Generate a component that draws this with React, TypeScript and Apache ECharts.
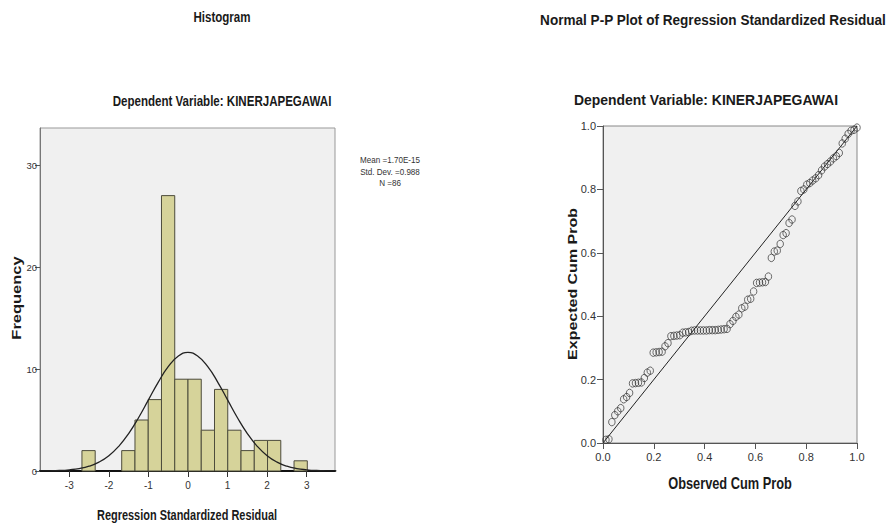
import React, { useEffect, useRef } from "react";
import * as echarts from "echarts";

// ---- Histogram data ----
const binEdges = [-2.68, -2.345, -2.01, -1.675, -1.34, -1.005, -0.67, -0.335, 0, 0.335, 0.67, 1.005, 1.34, 1.675, 2.01, 2.345, 2.68, 3.015];
const binCounts = [2, 0, 0, 2, 5, 7, 27, 9, 9, 4, 8, 4, 2, 3, 3, 0, 1];
const histXTicks = [-3, -2, -1, 0, 1, 2, 3];
const histYTicks = [0, 10, 20, 30];
// fitted normal curve
const curveX = [-3.75, -3.5, -3.25, -3, -2.75, -2.5, -2.25, -2, -1.75, -1.5, -1.25, -1, -0.75, -0.5, -0.25, 0, 0.25, 0.5, 0.75, 1, 1.25, 1.5, 1.75, 2, 2.25, 2.5, 2.75, 3, 3.25, 3.5, 3.75];
const curveY = [0.01, 0.02, 0.05, 0.12, 0.24, 0.47, 0.87, 1.5, 2.42, 3.67, 5.22, 6.97, 8.72, 10.23, 11.26, 11.63, 11.26, 10.23, 8.72, 6.97, 5.22, 3.67, 2.42, 1.5, 0.87, 0.47, 0.24, 0.12, 0.05, 0.02, 0.01];
const statLines = ["Mean =1.70E-15", "Std. Dev. =0.988", "N =86"];

// ---- P-P plot data ----
const observedCum = [
  0.0116, 0.0233, 0.0349, 0.0465, 0.0581, 0.0698, 0.0814, 0.093, 0.1047, 0.1163,
  0.1279, 0.1395, 0.1512, 0.1628, 0.1744, 0.186, 0.1977, 0.2093, 0.2209, 0.2326,
  0.2442, 0.2558, 0.2674, 0.2791, 0.2907, 0.3023, 0.314, 0.3256, 0.3372, 0.3488,
  0.3605, 0.3721, 0.3837, 0.3953, 0.407, 0.4186, 0.4302, 0.4419, 0.4535, 0.4651,
  0.4767, 0.4884, 0.5, 0.5116, 0.5233, 0.5349, 0.5465, 0.5581, 0.5698, 0.5814,
  0.593, 0.6047, 0.6163, 0.6279, 0.6395, 0.6512, 0.6628, 0.6744, 0.686, 0.6977,
  0.7093, 0.7209, 0.7326, 0.7442, 0.7558, 0.7674, 0.7791, 0.7907, 0.8023, 0.814,
  0.8256, 0.8372, 0.8488, 0.8605, 0.8721, 0.8837, 0.8953, 0.907, 0.9186, 0.9302,
  0.9419, 0.9535, 0.9651, 0.9767, 0.9884, 1.0,
];
const expectedCum = [
  0.01, 0.012, 0.066, 0.088, 0.1, 0.11, 0.138, 0.145, 0.158, 0.188,
  0.189, 0.19, 0.191, 0.205, 0.222, 0.228, 0.285, 0.286, 0.287, 0.288,
  0.305, 0.315, 0.337, 0.338, 0.339, 0.34, 0.348, 0.349, 0.35, 0.354,
  0.355, 0.355, 0.355, 0.355, 0.355, 0.356, 0.356, 0.356, 0.357, 0.358,
  0.359, 0.36, 0.375, 0.385, 0.398, 0.405, 0.425, 0.43, 0.452, 0.455,
  0.478, 0.505, 0.506, 0.507, 0.508, 0.525, 0.584, 0.604, 0.607, 0.628,
  0.656, 0.662, 0.694, 0.705, 0.748, 0.762, 0.795, 0.8, 0.815, 0.82,
  0.828, 0.835, 0.845, 0.86, 0.872, 0.88, 0.888, 0.898, 0.905, 0.915,
  0.945, 0.96, 0.975, 0.985, 0.988, 0.995,
];
const refLine = [[0, 0], [1, 1]];

const SANS = "'Liberation Sans', Arial, sans-serif";

function txt(text: string, x: number, y: number, size: number, sx: number, opts: any = {}) {
  return {
    type: "text",
    x, y,
    scaleX: sx,
    scaleY: opts.scaleY ?? 1,
    rotation: opts.rotation ?? 0,
    style: {
      text,
      fontFamily: SANS,
      fontWeight: opts.weight ?? "bold",
      fontSize: size,
      fill: opts.fill ?? "#1a1a1a",
      align: "center",
      verticalAlign: "middle",
    },
  };
}

export default function App() {
  const ref = useRef<HTMLDivElement>(null);
  useEffect(() => {
    if (!ref.current) return;
    const chart = echarts.init(ref.current, null, { renderer: "svg" });
    const barData = binCounts
      .map((c, i) => [binEdges[i], binEdges[i + 1], c])
      .filter((d) => d[2] > 0);
    const curveData = curveX.map((x, i) => [x, curveY[i]]);
    const ppData = observedCum.map((x, i) => [x, expectedCum[i]]);

    const option: any = {
      animation: false,
      backgroundColor: "#ffffff",
      grid: [
        { left: 40, top: 128, width: 295, height: 343, show: true, backgroundColor: "#f0f0f0", borderColor: "#999", borderWidth: 1 },
        { left: 603, top: 126, width: 254, height: 317, show: true, backgroundColor: "#f0f0f0", borderColor: "#888", borderWidth: 1 },
      ],
      xAxis: [
        {
          gridIndex: 0, type: "value", min: -3.74, max: 3.715,
          splitLine: { show: false },
          axisLine: { onZero: false, lineStyle: { color: "#111", width: 2 } },
          axisTick: { show: true, length: 6, lineStyle: { color: "#333" }, customValues: histXTicks },
          axisLabel: { customValues: histXTicks, fontFamily: SANS, fontSize: 10, color: "#333", margin: 9 },
        },
        {
          gridIndex: 1, type: "value", min: 0, max: 1, interval: 0.2,
          splitLine: { show: false },
          axisLine: { onZero: false, lineStyle: { color: "#555", width: 1 } },
          axisTick: { show: true, length: 6, lineStyle: { color: "#555" } },
          axisLabel: { formatter: (v: number) => v.toFixed(1), fontFamily: SANS, fontSize: 11, color: "#333", margin: 8 },
        },
      ],
      yAxis: [
        {
          gridIndex: 0, type: "value", min: 0, max: 33.63,
          splitLine: { show: false },
          axisLine: { onZero: false, lineStyle: { color: "#777", width: 1 } },
          axisTick: { show: true, length: 5, lineStyle: { color: "#555" }, customValues: histYTicks },
          axisLabel: { customValues: histYTicks, fontFamily: SANS, fontSize: 9.5, color: "#333", margin: 3 },
        },
        {
          gridIndex: 1, type: "value", min: 0, max: 1, interval: 0.2,
          splitLine: { show: false },
          axisLine: { onZero: false, lineStyle: { color: "#555", width: 1 } },
          axisTick: { show: true, length: 6, lineStyle: { color: "#555" } },
          axisLabel: { formatter: (v: number) => v.toFixed(1), fontFamily: SANS, fontSize: 11, color: "#333", margin: 7 },
        },
      ],
      series: [
        {
          type: "custom", xAxisIndex: 0, yAxisIndex: 0, data: barData,
          renderItem: (params: any, api: any) => {
            const p0 = api.coord([api.value(0), api.value(2)]);
            const p1 = api.coord([api.value(1), 0]);
            return {
              type: "rect",
              shape: { x: p0[0], y: p0[1], width: p1[0] - p0[0], height: p1[1] - p0[1] },
              style: { fill: "#d6d39a", stroke: "#4d4c3c", lineWidth: 1 },
            };
          },
          z: 2,
        },
        {
          type: "line", xAxisIndex: 0, yAxisIndex: 0, data: curveData, smooth: true,
          showSymbol: false, symbol: "none", lineStyle: { color: "#222", width: 1.3 }, z: 3,
        },
        {
          type: "line", xAxisIndex: 1, yAxisIndex: 1, data: refLine,
          showSymbol: false, symbol: "none", lineStyle: { color: "#222", width: 1 }, z: 2,
        },
        {
          type: "scatter", xAxisIndex: 1, yAxisIndex: 1, data: ppData,
          symbol: "circle", symbolSize: [6.5, 7.5],
          itemStyle: { color: "rgba(0,0,0,0)", borderColor: "#333", borderWidth: 0.9 }, z: 3,
        },
      ],
      graphic: [
        txt("Histogram", 222, 17, 15, 0.77),
        txt("Dependent Variable: KINERJAPEGAWAI", 222, 101, 15, 0.77),
        txt("Regression Standardized Residual", 187, 515, 15, 0.73),
        txt("Frequency", 17, 298, 16.5, 1, { rotation: Math.PI / 2, scaleY: 0.78 }),
        txt("Normal P-P Plot of Regression Standardized Residual", 713, 20, 15, 0.905),
        txt("Dependent Variable: KINERJAPEGAWAI", 706, 100, 15, 0.93),
        txt("Observed Cum Prob", 730, 483, 16, 0.8),
        txt("Expected Cum Prob", 573, 284, 16, 1, { rotation: Math.PI / 2, scaleY: 0.8 }),
        ...statLines.map((t, i) => txt(t, 390, 160 + i * 11.5, 9.5, 0.85, { weight: "normal", fill: "#333" })),
      ],
    };
    chart.setOption(option);
    return () => chart.dispose();
  }, []);
  return <div ref={ref} style={{ position: "fixed", left: 0, top: 0, width: 890, height: 527 }} />;
}
